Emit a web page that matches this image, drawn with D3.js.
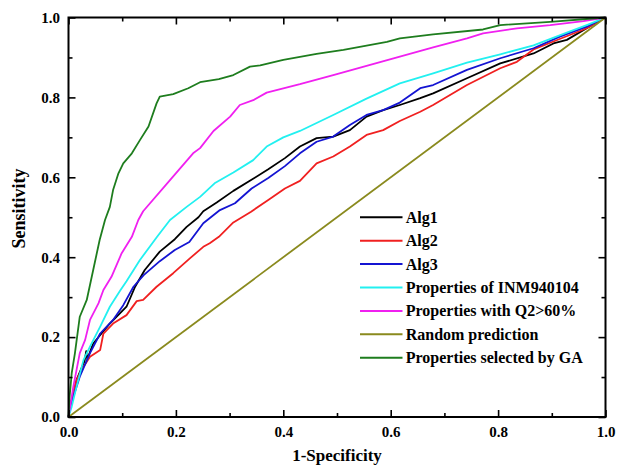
<!DOCTYPE html>
<head>
    <title>ROC curves</title>
    <script src="https://cdn.jsdelivr.net/npm/d3@7"></script>
    <style>
        body { margin: 0; background: #fff; }
        text { font-family: "Liberation Serif", "Times New Roman", serif; font-weight: bold; }
    </style>
</head>
<body>

<div id="container"></div>

<script>

// ROC points: [1-specificity, sensitivity]
const alg1 = [[0,0],[0.003,0.026],[0.015,0.093],[0.028,0.134],[0.030,0.14],[0.033,0.165],[0.035,0.145],[0.046,0.184],[0.077,0.234],[0.108,0.276],[0.124,0.326],[0.142,0.368],[0.170,0.414],[0.198,0.445],[0.220,0.476],[0.242,0.500],[0.251,0.515],[0.276,0.537],[0.307,0.566],[0.340,0.593],[0.372,0.620],[0.403,0.648],[0.431,0.677],[0.462,0.698],[0.493,0.702],[0.524,0.718],[0.555,0.752],[0.586,0.768],[0.617,0.781],[0.655,0.798],[0.679,0.810],[0.742,0.848],[0.804,0.885],[0.866,0.910],[0.903,0.935],[0.928,0.944],[0.965,0.973],[1,1]];
const alg2 = [[0,0],[0.003,0.026],[0.015,0.093],[0.028,0.126],[0.040,0.151],[0.059,0.168],[0.065,0.209],[0.083,0.234],[0.108,0.255],[0.127,0.290],[0.139,0.293],[0.164,0.326],[0.195,0.360],[0.226,0.397],[0.251,0.426],[0.263,0.435],[0.280,0.451],[0.307,0.487],[0.340,0.514],[0.372,0.543],[0.403,0.572],[0.431,0.591],[0.462,0.635],[0.493,0.652],[0.524,0.677],[0.555,0.706],[0.586,0.718],[0.617,0.741],[0.655,0.764],[0.679,0.781],[0.742,0.831],[0.804,0.873],[0.835,0.889],[0.866,0.920],[0.903,0.940],[0.965,0.973],[1,1]];
const alg3 = [[0,0],[0.003,0.026],[0.021,0.101],[0.040,0.160],[0.059,0.209],[0.083,0.243],[0.102,0.280],[0.121,0.326],[0.140,0.355],[0.170,0.390],[0.198,0.418],[0.225,0.438],[0.251,0.485],[0.282,0.518],[0.310,0.535],[0.341,0.572],[0.372,0.598],[0.403,0.628],[0.431,0.660],[0.462,0.689],[0.493,0.702],[0.524,0.731],[0.555,0.756],[0.586,0.768],[0.617,0.787],[0.655,0.823],[0.679,0.831],[0.742,0.869],[0.804,0.898],[0.866,0.923],[0.915,0.952],[0.965,0.977],[1,1]];
const inm940104 = [[0,0],[0.006,0.026],[0.015,0.076],[0.028,0.143],[0.040,0.176],[0.059,0.226],[0.077,0.276],[0.096,0.316],[0.108,0.340],[0.133,0.393],[0.165,0.451],[0.189,0.493],[0.220,0.526],[0.245,0.551],[0.272,0.585],[0.307,0.612],[0.344,0.643],[0.369,0.677],[0.400,0.700],[0.431,0.716],[0.493,0.756],[0.555,0.797],[0.617,0.835],[0.679,0.860],[0.742,0.887],[0.804,0.908],[0.866,0.930],[0.928,0.962],[0.965,0.981],[1,1]];
const q2 = [[0,0],[0.003,0.026],[0.009,0.076],[0.015,0.118],[0.021,0.160],[0.031,0.193],[0.040,0.243],[0.056,0.285],[0.065,0.318],[0.080,0.351],[0.099,0.410],[0.118,0.451],[0.130,0.493],[0.139,0.515],[0.189,0.593],[0.232,0.660],[0.245,0.673],[0.270,0.716],[0.301,0.752],[0.319,0.781],[0.344,0.793],[0.369,0.812],[0.431,0.833],[0.493,0.856],[0.555,0.879],[0.617,0.902],[0.679,0.925],[0.742,0.948],[0.772,0.960],[0.835,0.973],[0.897,0.981],[0.959,0.991],[1,1]];
const randomPred = [[0,0],[1,1]];
const ga = [[0,0],[0.0015,0.043],[0.006,0.110],[0.012,0.160],[0.021,0.251],[0.034,0.293],[0.046,0.368],[0.058,0.443],[0.068,0.493],[0.077,0.526],[0.083,0.568],[0.093,0.610],[0.102,0.635],[0.118,0.660],[0.133,0.693],[0.149,0.727],[0.164,0.785],[0.170,0.802],[0.195,0.808],[0.223,0.823],[0.245,0.838],[0.280,0.846],[0.307,0.856],[0.338,0.877],[0.357,0.880],[0.400,0.894],[0.462,0.909],[0.512,0.919],[0.593,0.939],[0.617,0.948],[0.679,0.958],[0.772,0.970],[0.804,0.981],[0.897,0.989],[1,1]];

const names = ["Alg1", "Alg2", "Alg3", "Properties of INM940104", "Properties with Q2>60%", "Random prediction", "Properties selected by GA"];
const colors = ["#000000", "#f02020", "#1414d2", "#22f0f0", "#f020f0", "#8a8a1e", "#1e7d1e"];
const series = [alg1, alg2, alg3, inm940104, q2, randomPred, ga];
const ticks = [0, 0.2, 0.4, 0.6, 0.8, 1.0];
const minorTicks = [0.1, 0.3, 0.5, 0.7, 0.9];

const width = 619;
const height = 466;
const marginLeft = 68.5, marginRight = 605.5, marginTop = 17.5, marginBottom = 417;

const svg = d3.create("svg")
    .attr("width", width)
    .attr("height", height);

const x = d3.scaleLinear().domain([0, 1]).range([marginLeft, marginRight]);
const y = d3.scaleLinear().domain([0, 1]).range([marginBottom, marginTop]);

// courbes
const line = d3.line().x(d => x(d[0])).y(d => y(d[1]));

svg.append("g")
    .selectAll("path")
    .data(series)
    .enter().append("path")
    .attr("d", line)
    .attr("fill", "none")
    .attr("stroke", (d, i) => colors[i])
    .attr("stroke-width", 1.8)
    .attr("stroke-linejoin", "round");

// axes, ticks vers l'intérieur
function styleAxis(g) {
    g.select(".domain").remove();
    g.selectAll(".tick line").attr("stroke", "#000").attr("stroke-width", 1.6);
    g.selectAll("text")
        .attr("fill", "#000")
        .style("font-size", "15px")
        .style("font-family", "'Liberation Serif', serif")
        .style("font-weight", "bold");
}

svg.append("g")
    .attr("transform", `translate(0,${marginBottom})`)
    .call(d3.axisBottom(x).tickValues(ticks).tickFormat(d3.format(".1f")).tickSize(-7).tickPadding(9))
    .call(styleAxis);
svg.append("g")
    .attr("transform", `translate(0,${marginBottom})`)
    .call(d3.axisBottom(x).tickValues(minorTicks).tickFormat("").tickSize(-4))
    .call(styleAxis);
svg.append("g")
    .attr("transform", `translate(${marginLeft},0)`)
    .call(d3.axisLeft(y).tickValues(ticks).tickFormat(d3.format(".1f")).tickSize(-7).tickPadding(8.5))
    .call(styleAxis);
svg.append("g")
    .attr("transform", `translate(${marginLeft},0)`)
    .call(d3.axisLeft(y).tickValues(minorTicks).tickFormat("").tickSize(-4))
    .call(styleAxis);
svg.append("g")
    .attr("transform", `translate(0,${marginTop})`)
    .call(d3.axisTop(x).tickValues(ticks).tickFormat("").tickSize(-7))
    .call(styleAxis);
svg.append("g")
    .attr("transform", `translate(0,${marginTop})`)
    .call(d3.axisTop(x).tickValues(minorTicks).tickFormat("").tickSize(-4))
    .call(styleAxis);
svg.append("g")
    .attr("transform", `translate(${marginRight},0)`)
    .call(d3.axisRight(y).tickValues(ticks).tickFormat("").tickSize(-7))
    .call(styleAxis);
svg.append("g")
    .attr("transform", `translate(${marginRight},0)`)
    .call(d3.axisRight(y).tickValues(minorTicks).tickFormat("").tickSize(-4))
    .call(styleAxis);

// cadre
svg.append("rect")
    .attr("x", marginLeft)
    .attr("y", marginTop)
    .attr("width", marginRight - marginLeft)
    .attr("height", marginBottom - marginTop)
    .attr("fill", "none")
    .attr("stroke", "#000")
    .attr("stroke-width", 2);

// titres des axes
svg.append("text")
    .attr("x", (marginLeft + marginRight) / 2)
    .attr("y", 461)
    .attr("text-anchor", "middle")
    .style("font-size", "17px")
    .text("1-Specificity");

svg.append("text")
    .attr("transform", "translate(25,208.5) rotate(-90)")
    .attr("text-anchor", "middle")
    .style("font-size", "18px")
    .text("Sensitivity");

// légende
const legend = svg.append("g")
    .attr("transform", "translate(360,217.3)");
const rowH = 23.4;

legend.selectAll("line")
    .data(names)
    .enter().append("line")
    .attr("x1", 0)
    .attr("x2", 42.5)
    .attr("y1", (d, i) => i * rowH)
    .attr("y2", (d, i) => i * rowH)
    .attr("stroke", (d, i) => colors[i])
    .attr("stroke-width", 2);

legend.selectAll("text")
    .data(names)
    .enter().append("text")
    .attr("x", 45.7)
    .attr("y", (d, i) => i * rowH)
    .attr("dy", "0.35em")
    .style("font-size", "16px")
    .text(d => d);

container.append(svg.node());

</script>

</body>
